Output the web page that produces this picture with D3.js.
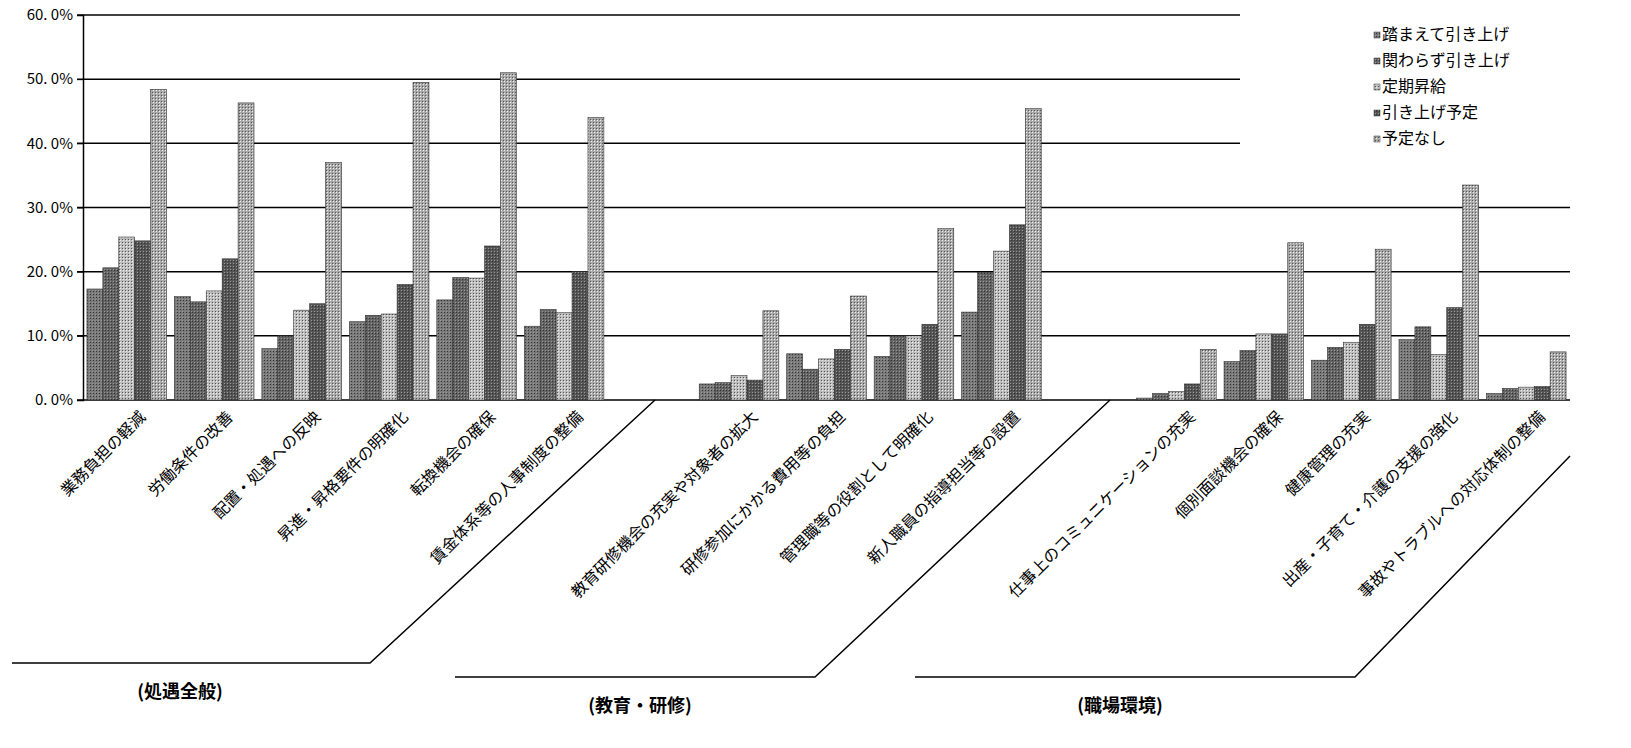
<!DOCTYPE html>
<html>
<head>
<meta charset="utf-8">
<script src="https://d3js.org/d3.v7.min.js"></script>
<style>
body { margin: 0; background: #fff; }
text { font-family: "Noto Sans CJK JP", "DejaVu Sans", sans-serif; }
</style>
</head>
<body>
<svg id="chart" width="1631" height="748"></svg>
<script>
// slots: "" = gap between groups
const categories = ['業務負担の軽減', '労働条件の改善', '配置・処遇への反映', '昇進・昇格要件の明確化', '転換機会の確保', '賃金体系等の人事制度の整備', '',
  '教育研修機会の充実や対象者の拡大', '研修参加にかかる費用等の負担', '管理職等の役割として明確化', '新人職員の指導担当等の設置', '',
  '仕事上のコミュニケーションの充実', '個別面談機会の確保', '健康管理の充実', '出産・子育て・介護の支援の強化', '事故やトラブルへの対応体制の整備'];
const seriesNames = ['踏まえて引き上げ', '関わらず引き上げ', '定期昇給', '引き上げ予定', '予定なし'];
const s1 = [17.3, 16.1, 8.0, 12.2, 15.6, 11.5, null, 2.5, 7.2, 6.8, 13.7, null, 0.3, 6.0, 6.2, 9.4, 1.0];
const s2 = [20.6, 15.3, 10.0, 13.2, 19.1, 14.1, null, 2.7, 4.8, 10.0, 19.9, null, 1.0, 7.7, 8.2, 11.4, 1.8];
const s3 = [25.4, 17.0, 14.0, 13.4, 19.0, 13.6, null, 3.8, 6.4, 10.0, 23.2, null, 1.3, 10.3, 9.0, 7.1, 2.0];
const s4 = [24.8, 22.0, 15.0, 18.0, 24.0, 20.0, null, 3.1, 7.9, 11.8, 27.3, null, 2.5, 10.3, 11.8, 14.4, 2.1];
const s5 = [48.4, 46.3, 37.0, 49.5, 51.0, 44.0, null, 13.9, 16.2, 26.7, 45.4, null, 7.9, 24.5, 23.5, 33.5, 7.5];
const series = [s1, s2, s3, s4, s5];
const yTicks = [0, 10, 20, 30, 40, 50, 60];
const groups = ['(処遇全般)', '(教育・研修)', '(職場環境)'];

const colors = ['#7a7a7a', '#646464', '#bdbdbd', '#555', '#a9a9a9'];
const svg = d3.select('#chart');
const mL = 83, mR = 1570, mT = 15, mB = 400;
const x = d3.scaleBand().domain(d3.range(categories.length)).range([mL, mR]).paddingInner(0.09).paddingOuter(0.045);
const xs = d3.scaleBand().domain(d3.range(5)).range([0, x.bandwidth()]);
const y = d3.scaleLinear().domain([0, 60]).range([mB, mT]);

// pattern per series for a print-like texture
const defs = svg.append('defs');
colors.forEach((c, i) => {
  const p = defs.append('pattern').attr('id', 'p' + i).attr('patternUnits', 'userSpaceOnUse').attr('width', 3).attr('height', 3);
  p.append('rect').attr('width', 3).attr('height', 3).attr('fill', c);
  p.append('rect').attr('width', 1).attr('height', 1).attr('fill', i === 2 || i === 4 ? '#eee' : '#333');
  p.append('rect').attr('x', 2).attr('y', 2).attr('width', 1).attr('height', 1).attr('fill', i === 2 || i === 4 ? '#555' : '#999');
});

// gridlines
yTicks.forEach(t => {
  if (t === 0) return;
  const xe = t >= 40 ? 1240 : mR;
  svg.append('line').attr('x1', mL - 6).attr('x2', xe).attr('y1', y(t)).attr('y2', y(t)).attr('stroke', '#000').attr('stroke-width', 1.5);
});
svg.append('g').attr('transform', `translate(${mL},0)`)
  .call(d3.axisLeft(y).tickValues(yTicks).tickSize(6).tickFormat(d => d.toFixed(1).replace('.', '. ') + '%'))
  .call(g => g.selectAll('text').attr('font-size', 15).attr('font-family', 'DejaVu Serif, serif').attr('x', -10))
  .call(g => g.select('.domain').attr('stroke-width', 1.5));
svg.append('line').attr('x1', mL - 6).attr('x2', mR).attr('y1', mB).attr('y2', mB).attr('stroke', '#000').attr('stroke-width', 1.5);

// bars
series.forEach((s, si) => {
  svg.append('g').selectAll('rect').data(s.map((v, i) => ({ v, i })).filter(d => d.v !== null)).join('rect')
    .attr('x', d => x(d.i) + xs(si)).attr('width', xs.bandwidth())
    .attr('y', d => y(d.v)).attr('height', d => mB - y(d.v))
    .attr('fill', `url(#p${si})`).attr('stroke', '#333').attr('stroke-width', 0.6);
});

// category labels rotated
svg.append('g').selectAll('text').data(categories.map((c, i) => ({ c, i })).filter(d => d.c)).join('text')
  .attr('transform', d => `translate(${x(d.i) + x.bandwidth() * 0.75},${mB + 18}) rotate(-45)`)
  .attr('text-anchor', 'end').attr('font-size', 16).text(d => d.c);

// legend
const lg = svg.append('g').attr('transform', 'translate(1382,36)');
seriesNames.forEach((n, i) => {
  lg.append('rect').attr('x', -8).attr('y', i * 26 - 4).attr('width', 6).attr('height', 6).attr('fill', `url(#p${i})`).attr('stroke', '#333').attr('stroke-width', 0.5);
  lg.append('text').attr('x', 0).attr('y', i * 26).attr('font-size', 16).attr('dominant-baseline', 'middle').text(n);
});

// group brackets
const brackets = [
  { x0: 12, x1: 370, yb: 663, xt: 655, yt: 400, lx: 180, ly: 698 },
  { x0: 455, x1: 815, yb: 677, xt: 1110, yt: 400, lx: 640, ly: 712 },
  { x0: 915, x1: 1355, yb: 677, xt: 1570, yt: 456, lx: 1120, ly: 712 }
];
brackets.forEach((b, i) => {
  svg.append('path').attr('d', `M${b.x0},${b.yb}H${b.x1}L${b.xt},${b.yt}`).attr('fill', 'none').attr('stroke', '#000').attr('stroke-width', 1.5);
  svg.append('text').attr('x', b.lx).attr('y', b.ly).attr('text-anchor', 'middle').attr('font-size', 18).attr('font-weight', 'bold').text(groups[i]);
});
</script>
</body>
</html>
